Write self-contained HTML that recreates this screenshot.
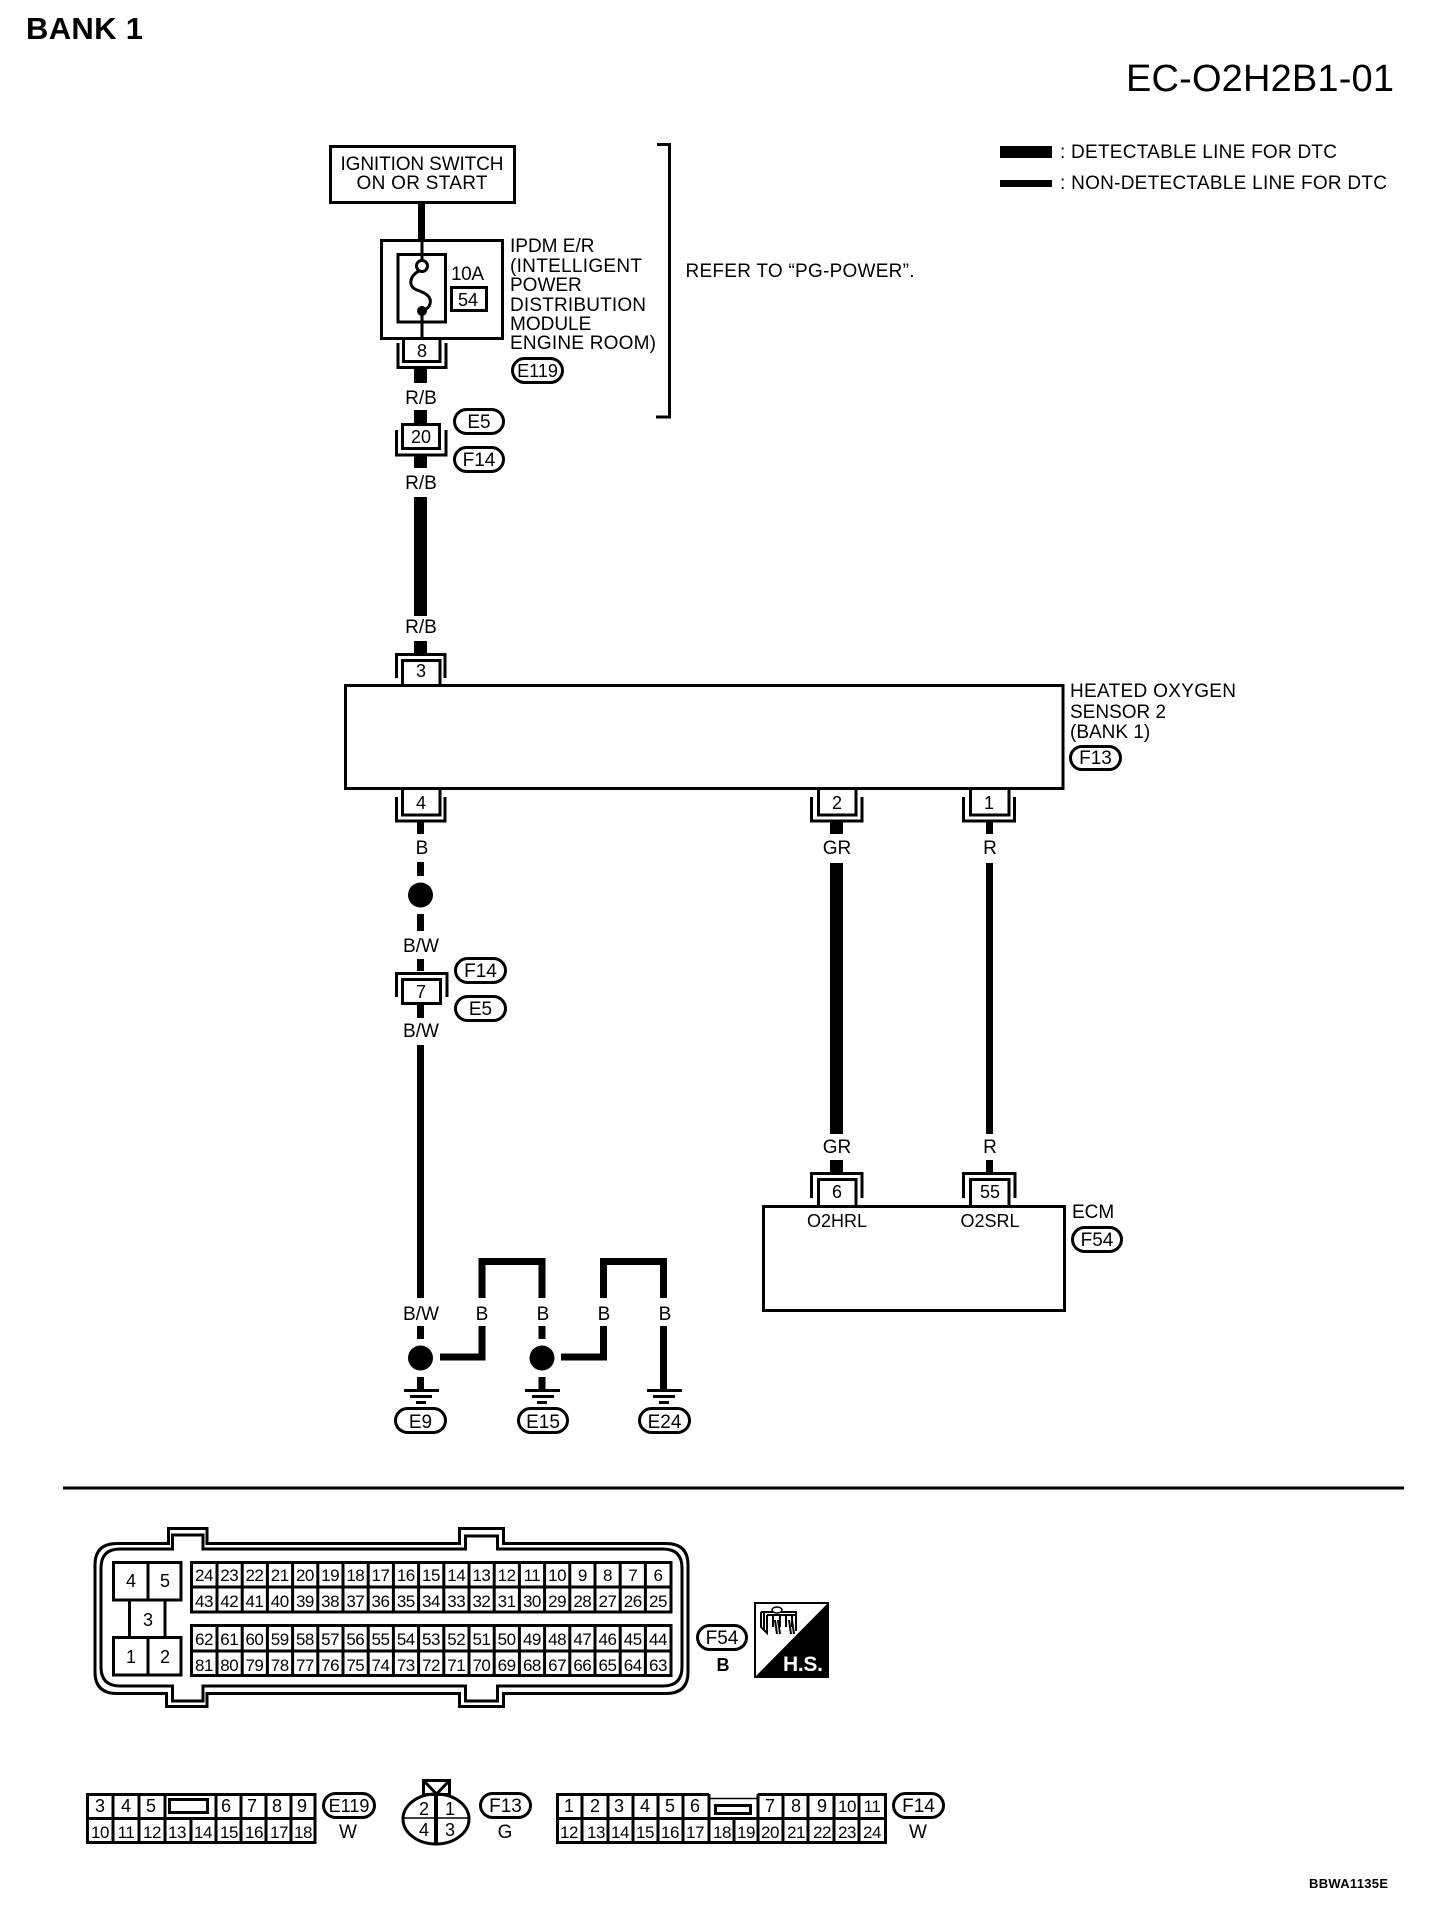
<!DOCTYPE html>
<html lang="en">
<head>
<meta charset="utf-8">
<title>EC-O2H2B1-01</title>
<style>
html,body{margin:0;padding:0;background:#fff}
svg{display:block}
text{font-family:"Liberation Sans",Arial,sans-serif;font-size:19px;fill:#000}
.m{text-anchor:middle}
.n{font-size:18px;text-anchor:middle}
.d{font-size:17px;text-anchor:middle;letter-spacing:-.5px}
.l{fill:none;stroke:#000;stroke-width:3}
.t{fill:none;stroke:#000;stroke-width:1.5}
.w7{fill:none;stroke:#000;stroke-width:7}
.w13{fill:none;stroke:#000;stroke-width:13}
.p{fill:#fff;stroke:#000;stroke-width:3}
</style>
</head>
<body>
<svg width="1440" height="1928" viewBox="0 0 1440 1928" xmlns="http://www.w3.org/2000/svg">
<rect width="1440" height="1928" fill="#fff"/>

<!-- header -->
<text x="26" y="39" textLength="117" style="font-size:31px;font-weight:bold">BANK 1</text>
<text x="1126" y="91" textLength="268" style="font-size:38px">EC-O2H2B1-01</text>
<rect x="1000" y="146" width="52" height="12"/>
<rect x="1000" y="180" width="52" height="7"/>
<text x="1060" y="158" textLength="277">: DETECTABLE LINE FOR DTC</text>
<text x="1060" y="189" textLength="327">: NON-DETECTABLE LINE FOR DTC</text>

<!-- ignition -->
<rect class="l" x="330.500" y="146.500" width="184" height="56"/>
<text class="m" x="422" y="170" textLength="163">IGNITION SWITCH</text>
<text class="m" x="422" y="189" textLength="131">ON OR START</text>
<path class="w7" d="M421.500 203V240"/>

<!-- IPDM -->
<rect class="l" x="381.500" y="240.500" width="121" height="98"/>
<rect class="l" x="398" y="254.500" width="47.500" height="67.500"/>
<path class="l" d="M422 240V260M422 311V339"/>
<circle cx="422" cy="266" r="5.500" fill="#fff" stroke="#000" stroke-width="3"/>
<path d="M419 271C409 276 408 287 417 290C426 293 432 297 430 304C429 308 425 310 422 311" fill="none" stroke="#000" stroke-width="3"/>
<circle cx="422" cy="311" r="5"/>
<text x="451" y="280" textLength="33">10A</text>
<rect class="l" x="451.500" y="287.500" width="35" height="23"/>
<text class="n" x="468" y="306">54</text>
<text x="510" y="252">IPDM E/R</text>
<text x="510" y="272" textLength="132">(INTELLIGENT</text>
<text x="510" y="291">POWER</text>
<text x="510" y="311" textLength="136">DISTRIBUTION</text>
<text x="510" y="330">MODULE</text>
<text x="510" y="349" textLength="146">ENGINE ROOM)</text>
<rect class="p" x="512.500" y="358.500" width="50" height="24" rx="12"/>
<text class="m" x="537.500" y="377" style="font-size:18px">E119</text>

<!-- bracket -->
<path class="l" d="M657 144.500H669.500V417H656"/>
<text x="685.500" y="277" textLength="229">REFER TO “PG-POWER”.</text>

<!-- connector 8 -->
<path class="l" d="M398 343V367.500H446V343"/>
<path class="l" d="M403.500 339V361.500H440V339"/>
<text class="n" x="422" y="357">8</text>
<path class="w13" d="M420.500 369V383"/>
<text class="m" x="421" y="404">R/B</text>
<path class="w13" d="M420.500 410V423"/>

<!-- connector 20 -->
<rect class="l" x="402.500" y="424.500" width="37" height="24"/>
<path class="l" d="M396.500 430V455H446V430"/>
<text class="n" x="421" y="443">20</text>
<rect class="p" x="454.500" y="409.500" width="49" height="24" rx="12"/>
<text class="m" x="479" y="428">E5</text>
<rect class="p" x="454.500" y="447.500" width="49" height="24" rx="12"/>
<text class="m" x="479" y="466">F14</text>
<path class="w13" d="M420.500 456V468"/>
<text class="m" x="421" y="489">R/B</text>
<path class="w13" d="M420.500 497V616"/>
<text class="m" x="421" y="633">R/B</text>
<path class="w13" d="M420.500 641V653"/>

<!-- connector 3 -->
<path class="l" d="M396.500 678V654.500H445V678"/>
<path class="l" d="M402.500 684V660.500H440V684"/>
<text class="n" x="421" y="677">3</text>

<!-- sensor box -->
<rect class="l" x="345.500" y="685.500" width="717.500" height="103"/>
<text x="1070" y="697" textLength="166">HEATED OXYGEN</text>
<text x="1070" y="718">SENSOR 2</text>
<text x="1070" y="738">(BANK 1)</text>
<rect class="p" x="1070.500" y="746.500" width="50" height="23" rx="11.500"/>
<text class="m" x="1095.500" y="764">F13</text>

<!-- connector 4 -->
<path class="l" d="M396.500 797V821H445V797"/>
<path class="l" d="M402.500 789V815H440V789"/>
<text class="n" x="421" y="809">4</text>
<path class="w7" d="M420.500 822V834M420.500 862V876M420.500 914V931M420.500 959V971"/>
<text class="m" x="422" y="854">B</text>
<circle cx="420.500" cy="895" r="12.500"/>
<text class="m" x="421" y="952">B/W</text>

<!-- connector 7 -->
<path class="l" d="M396.500 997V973.500H447V997"/>
<rect class="l" x="402.500" y="979.500" width="38" height="24"/>
<text class="n" x="421" y="998">7</text>
<rect class="p" x="455.500" y="958.500" width="50" height="24" rx="12"/>
<text class="m" x="480.500" y="977">F14</text>
<rect class="p" x="455.500" y="996.500" width="50" height="24" rx="12"/>
<text class="m" x="480.500" y="1015">E5</text>
<path class="w7" d="M420.500 1005V1018"/>
<text class="m" x="421" y="1037">B/W</text>
<path class="w7" d="M420.500 1045V1298"/>

<!-- connectors 2 and 1 -->
<path class="l" d="M811.500 797V821H862V797M963.500 797V821H1014.500V797"/>
<path class="l" d="M818.500 789V815H856V789M970.500 789V815H1009V789"/>
<text class="n" x="837" y="809">2</text>
<text class="n" x="989" y="809">1</text>
<path class="w13" d="M836.500 822V834M836.500 863V1134M836.500 1160V1172"/>
<path class="w7" d="M989.500 822V834M989.500 863V1134M989.500 1160V1172"/>
<text class="m" x="837" y="854">GR</text>
<text class="m" x="990" y="854">R</text>
<text class="m" x="837" y="1153">GR</text>
<text class="m" x="990" y="1153">R</text>

<!-- ECM -->
<path class="l" d="M811.500 1198V1173.500H862V1198M963.500 1198V1173.500H1015V1198"/>
<path class="l" d="M818.500 1205V1179.500H856V1205M970.500 1205V1179.500H1009V1205"/>
<text class="n" x="837" y="1198">6</text>
<text class="n" x="990" y="1198">55</text>
<rect class="l" x="763.500" y="1206.500" width="301" height="104"/>
<text class="m" x="837" y="1227" style="font-size:18px">O2HRL</text>
<text class="m" x="990" y="1227" style="font-size:18px">O2SRL</text>
<text x="1072" y="1218">ECM</text>
<rect class="p" x="1072.500" y="1227.500" width="49" height="24" rx="12"/>
<text class="m" x="1097" y="1246">F54</text>

<!-- ground section -->
<text class="m" x="421" y="1320">B/W</text>
<path class="w7" d="M420.500 1326V1339M420.500 1377V1389"/>
<circle cx="420.500" cy="1358" r="12.500"/>
<path class="w7" d="M440 1357H482V1326M482 1298V1261.500H542V1298"/>
<text class="m" x="482" y="1320">B</text>
<text class="m" x="543" y="1320">B</text>
<path class="w7" d="M542 1326V1339M542 1377V1389"/>
<circle cx="542" cy="1358" r="12.500"/>
<path class="w7" d="M561 1357H603.500V1326M603.500 1298V1261.500H663.500V1298"/>
<text class="m" x="604" y="1320">B</text>
<text class="m" x="665" y="1320">B</text>
<path class="w7" d="M663.500 1326V1389"/>
<!-- ground bars -->
<rect x="404" y="1389" width="35" height="3"/><rect x="410" y="1395" width="22" height="3"/><rect x="416" y="1401" width="10" height="3"/>
<rect x="525" y="1389" width="35" height="3"/><rect x="532" y="1395" width="22" height="3"/><rect x="537" y="1401" width="10" height="3"/>
<rect x="647" y="1389" width="35" height="3"/><rect x="653" y="1395" width="22" height="3"/><rect x="659" y="1401" width="10" height="3"/>
<rect class="p" x="395.500" y="1408.500" width="50" height="24" rx="12"/>
<text class="m" x="420.500" y="1428">E9</text>
<rect class="p" x="518.500" y="1408.500" width="49" height="24" rx="12"/>
<text class="m" x="543" y="1428">E15</text>
<rect class="p" x="639.500" y="1408.500" width="50" height="24" rx="12"/>
<text class="m" x="664.500" y="1428">E24</text>

<!-- divider -->
<rect x="63" y="1486.500" width="1341" height="3"/>

<!-- ECU connector -->
<path class="l" d="M95 1565Q95 1543.500 117 1543.500H168.500V1528.500H207V1543.500H459.500V1528.500H503.500V1543.500H666Q688 1543.500 688 1565V1672Q688 1693.500 666 1693.500H503.500V1706.500H459.500V1693.500H207V1706.500H166.500V1693.500H117Q95 1693.500 95 1672Z"/>
<path class="l" d="M101 1568Q101 1549 120 1549H172.500V1535H203V1549H465.500V1536H497.500V1549H663Q682 1549 682 1568V1667Q682 1686 663 1686H497.500V1701H465.500V1686H203V1701H172.500V1686H120Q101 1686 101 1667Z"/>
<path class="l" d="M113.500 1562.500H181V1600H113.500ZM148 1562.500V1600M129.500 1600V1637M165 1600V1637M113.500 1637.500H181V1675H113.500ZM148 1637.500V1675"/>
<text class="n" x="131" y="1587">4</text><text class="n" x="165" y="1587">5</text><text class="n" x="148" y="1626">3</text><text class="n" x="131" y="1663">1</text><text class="n" x="165" y="1663">2</text>
<path class="l" d="M191.500 1562.500H671V1612H191.500ZM191.500 1587H671M191.500 1625.500H671V1675.500H191.500ZM191.500 1651H671"/>
<path class="l" d="M217 1562V1612M242.200 1562V1612M267.400 1562V1612M292.600 1562V1612M317.800 1562V1612M343 1562V1612M368.200 1562V1612M393.400 1562V1612M418.600 1562V1612M443.800 1562V1612M469 1562V1612M494.200 1562V1612M519.400 1562V1612M544.600 1562V1612M569.800 1562V1612M595 1562V1612M620.200 1562V1612M645.400 1562V1612"/>
<path class="l" d="M217 1625V1675M242.200 1625V1675M267.400 1625V1675M292.600 1625V1675M317.800 1625V1675M343 1625V1675M368.200 1625V1675M393.400 1625V1675M418.600 1625V1675M443.800 1625V1675M469 1625V1675M494.200 1625V1675M519.400 1625V1675M544.600 1625V1675M569.800 1625V1675M595 1625V1675M620.200 1625V1675M645.400 1625V1675"/>
<text class="d" y="1581"><tspan x="204">24</tspan><tspan x="229.200">23</tspan><tspan x="254.400">22</tspan><tspan x="279.700">21</tspan><tspan x="304.900">20</tspan><tspan x="330.100">19</tspan><tspan x="355.300">18</tspan><tspan x="380.500">17</tspan><tspan x="405.800">16</tspan><tspan x="431">15</tspan><tspan x="456.200">14</tspan><tspan x="481.400">13</tspan><tspan x="506.600">12</tspan><tspan x="531.900">11</tspan><tspan x="557.100">10</tspan><tspan x="582.300">9</tspan><tspan x="607.500">8</tspan><tspan x="632.700">7</tspan><tspan x="658">6</tspan></text>
<text class="d" y="1607"><tspan x="204">43</tspan><tspan x="229.200">42</tspan><tspan x="254.400">41</tspan><tspan x="279.700">40</tspan><tspan x="304.900">39</tspan><tspan x="330.100">38</tspan><tspan x="355.300">37</tspan><tspan x="380.500">36</tspan><tspan x="405.800">35</tspan><tspan x="431">34</tspan><tspan x="456.200">33</tspan><tspan x="481.400">32</tspan><tspan x="506.600">31</tspan><tspan x="531.900">30</tspan><tspan x="557.100">29</tspan><tspan x="582.300">28</tspan><tspan x="607.500">27</tspan><tspan x="632.700">26</tspan><tspan x="658">25</tspan></text>
<text class="d" y="1645"><tspan x="204">62</tspan><tspan x="229.200">61</tspan><tspan x="254.400">60</tspan><tspan x="279.700">59</tspan><tspan x="304.900">58</tspan><tspan x="330.100">57</tspan><tspan x="355.300">56</tspan><tspan x="380.500">55</tspan><tspan x="405.800">54</tspan><tspan x="431">53</tspan><tspan x="456.200">52</tspan><tspan x="481.400">51</tspan><tspan x="506.600">50</tspan><tspan x="531.900">49</tspan><tspan x="557.100">48</tspan><tspan x="582.300">47</tspan><tspan x="607.500">46</tspan><tspan x="632.700">45</tspan><tspan x="658">44</tspan></text>
<text class="d" y="1671"><tspan x="204">81</tspan><tspan x="229.200">80</tspan><tspan x="254.400">79</tspan><tspan x="279.700">78</tspan><tspan x="304.900">77</tspan><tspan x="330.100">76</tspan><tspan x="355.300">75</tspan><tspan x="380.500">74</tspan><tspan x="405.800">73</tspan><tspan x="431">72</tspan><tspan x="456.200">71</tspan><tspan x="481.400">70</tspan><tspan x="506.600">69</tspan><tspan x="531.900">68</tspan><tspan x="557.100">67</tspan><tspan x="582.300">66</tspan><tspan x="607.500">65</tspan><tspan x="632.700">64</tspan><tspan x="658">63</tspan></text>
<rect class="p" x="697.500" y="1625.500" width="49" height="24" rx="12"/>
<text class="m" x="722" y="1644">F54</text>
<text class="m" x="723" y="1671" style="font-weight:bold;font-size:18px">B</text>

<!-- H.S. icon -->
<rect x="755" y="1603" width="73" height="74" fill="#fff" stroke="#000" stroke-width="2"/>
<path d="M829 1602V1678H754Z"/>
<text x="783" y="1671" textLength="40" style="font-weight:bold;font-size:21px;fill:#fff">H.S.</text>
<path d="M761 1612H796V1631M761 1612V1627L767 1633V1615M764 1612V1630M767 1615H796M773 1615V1627M780 1615V1627M786 1615V1627M792 1615V1627M775 1620L777 1634M778 1620L780 1634M789 1620L791 1634M792 1620L794 1634" fill="none" stroke="#000" stroke-width="2"/>
<ellipse cx="777" cy="1610" rx="5" ry="3" fill="#fff" stroke="#000" stroke-width="1.500"/>

<!-- connector table E119 -->
<path class="l" d="M87.500 1794.500H315V1842.500H87.500Z"/>
<path class="l" d="M87.500 1818.500H315M113 1794V1843M139 1794V1843M165 1794V1843M216 1794V1843M241 1794V1843M266 1794V1843M291 1794V1843M191 1818V1843"/>
<rect x="167" y="1794" width="48" height="23" fill="#fff"/>
<rect class="l" x="169.500" y="1799.500" width="38" height="13"/>
<path class="l" d="M165 1794V1818M216 1794V1818M165 1794.500H216"/>
<text class="n" y="1812"><tspan x="100">3</tspan><tspan x="126">4</tspan><tspan x="151">5</tspan><tspan x="226">6</tspan><tspan x="252">7</tspan><tspan x="277">8</tspan><tspan x="302">9</tspan></text>
<text class="d" y="1838"><tspan x="100">10</tspan><tspan x="126">11</tspan><tspan x="152">12</tspan><tspan x="177">13</tspan><tspan x="203">14</tspan><tspan x="229">15</tspan><tspan x="254">16</tspan><tspan x="279">17</tspan><tspan x="303">18</tspan></text>
<rect class="p" x="323.500" y="1793.500" width="51" height="24" rx="12"/>
<text class="m" x="349" y="1812" style="font-size:18px">E119</text>
<text class="m" x="348" y="1838">W</text>

<!-- oval connector F13 -->
<rect class="l" x="423.500" y="1780.500" width="26" height="14"/>
<path class="l" d="M424 1781L436.500 1794L449 1781"/>
<ellipse class="l" cx="436" cy="1819" rx="33" ry="25" fill="#fff"/>
<path d="M436 1793V1845" fill="none" stroke="#000" stroke-width="4"/>
<path class="t" d="M403 1818H469"/>
<text class="n" y="1815"><tspan x="424">2</tspan><tspan x="450">1</tspan></text>
<text class="n" y="1836"><tspan x="424">4</tspan><tspan x="450">3</tspan></text>
<rect class="p" x="480.500" y="1793.500" width="50" height="24" rx="12"/>
<text class="m" x="505.500" y="1812">F13</text>
<text class="m" x="505" y="1838">G</text>

<!-- connector table F14 -->
<path class="l" d="M709 1794.500H557.500V1842.500H885.500V1794.500H758"/>
<path class="l" d="M557.500 1818.500H885.500"/>
<path class="l" d="M582 1794V1843M608 1794V1843M633 1794V1843M658 1794V1843M683 1794V1843M709 1794V1843M758 1794V1843M783 1794V1843M808 1794V1843M834 1794V1843M859 1794V1843M734 1818V1843"/>
<path class="t" d="M709 1798.500H758"/>
<rect class="l" x="715.500" y="1805.500" width="35" height="8"/>
<text class="n" y="1812"><tspan x="569">1</tspan><tspan x="595">2</tspan><tspan x="619">3</tspan><tspan x="645">4</tspan><tspan x="670">5</tspan><tspan x="695">6</tspan><tspan x="770">7</tspan><tspan x="796">8</tspan><tspan x="822">9</tspan></text>
<text class="d" y="1812"><tspan x="847">10</tspan><tspan x="872">11</tspan></text>
<text class="d" y="1838"><tspan x="569">12</tspan><tspan x="596">13</tspan><tspan x="620">14</tspan><tspan x="645">15</tspan><tspan x="670">16</tspan><tspan x="695">17</tspan><tspan x="722">18</tspan><tspan x="746">19</tspan><tspan x="770">20</tspan><tspan x="796">21</tspan><tspan x="822">22</tspan><tspan x="847">23</tspan><tspan x="872">24</tspan></text>
<rect class="p" x="893.500" y="1793.500" width="50" height="24" rx="12"/>
<text class="m" x="918.500" y="1812">F14</text>
<text class="m" x="918" y="1838">W</text>

<text x="1309" y="1888" textLength="79" style="font-size:13px;font-weight:bold">BBWA1135E</text>
</svg>
</body>
</html>
